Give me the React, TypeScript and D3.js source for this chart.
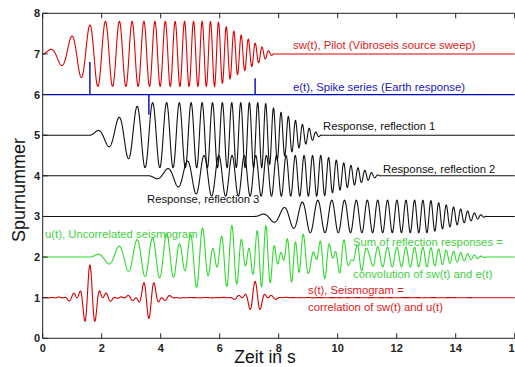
import React, { useMemo } from "react";
import * as d3 from "d3";

// ---- data ----
const xTicks = [0, 2, 4, 6, 8, 10, 12, 14, 16];
const yTicks = [0, 1, 2, 3, 4, 5, 6, 7, 8];
// linear sweep: start frequency (Hz), sweep rate (Hz/s)
const sweepFreq = [1.05, 0.45];
// taper knots (s): start, end of start-taper, start of end-taper, end of sweep
const sweepTaper = [0, 1.8, 5.9, 7.85];
const sweepDisplayAmp = 0.8;
// earth response (spike series)
const spikeTimes = [1.6, 3.6, 7.2];
const spikeAmps = [0.8, -0.5, 0.4];
// trace baselines
const sweepBase = 7;
const spikeBase = 6;
const responseBases = [5, 4, 3];
const sumBase = 2;
const corrBase = 1;
const sumGain = 0.6;

const labelTexts = [
  "sw(t), Pilot (Vibroseis source sweep)",
  "e(t), Spike series (Earth response)",
  "Response, reflection 1",
  "Response, reflection 2",
  "Response, reflection 3",
  "u(t), Uncorrelated seismogram",
  "Sum of reflection responses =",
  "convolution of sw(t) and e(t)",
  "s(t), Seismogram =",
  "correlation of sw(t) and u(t)",
];

const W = 515;
const H = 367;
const DT = 0.005;

function sweep(t: number): number {
  const [t0, t1, t2, t3] = sweepTaper;
  if (t <= t0 || t >= t3) return 0;
  let env = 1;
  if (t < t1) env = (t - t0) / (t1 - t0);
  else if (t > t2) env = (t3 - t) / (t3 - t2);
  const [f0, k] = sweepFreq;
  return env * Math.sin(2 * Math.PI * (f0 * t + 0.5 * k * t * t));
}

export default function App() {
  const x = d3.scaleLinear().domain([0, 16]).range([42.7, 514.7]);
  const y = d3.scaleLinear().domain([0, 8]).range([338.3, 13.3]);

  const data = useMemo(() => {
    const n = Math.round(16 / DT);
    const ts = d3.range(n + 1).map((i) => i * DT);
    // autocorrelation of sweep
    const ns = Math.round(sweepTaper[3] / DT);
    const s = d3.range(ns + 1).map((i) => sweep(i * DT));
    const R: number[] = new Array(ns + 1).fill(0);
    for (let lag = 0; lag <= ns; lag++) {
      let acc = 0;
      for (let i = 0; i + lag <= ns; i++) acc += s[i] * s[i + lag];
      R[lag] = acc;
    }
    const r0 = R[0];
    const Rn = (tau: number) => {
      const l = Math.abs(Math.round(tau / DT));
      return l > ns ? 0 : R[l] / r0;
    };
    const sw = ts.map((t) => [t, sweepBase + sweepDisplayAmp * sweep(t)]);
    const resp = spikeTimes.map((tau, k) =>
      ts.map((t) => [t, responseBases[k] + spikeAmps[k] * sweep(t - tau)])
    );
    const sum = ts.map((t) => [
      t,
      sumBase +
        sumGain *
          spikeTimes.reduce((a, tau, k) => a + spikeAmps[k] * sweep(t - tau), 0),
    ]);
    const corr = ts.map((t) => [
      t,
      corrBase + spikeTimes.reduce((a, tau, k) => a + spikeAmps[k] * Rn(t - tau), 0),
    ]);
    return { sw, resp, sum, corr };
  }, []);

  const line = d3
    .line<number[]>()
    .x((d) => x(d[0]))
    .y((d) => y(d[1]));

  const lw = 1.1;
  const font = "Arial, 'Liberation Sans', Helvetica, sans-serif";

  return (
    <svg
      width={W}
      height={H}
      style={{ position: "absolute", left: 0, top: 0, background: "#fff" }}
      fontFamily={font}
    >
      {/* traces */}
      {data.resp.map((r, k) => (
        <path key={k} d={line(r) || ""} fill="none" stroke="#111" strokeWidth={lw} />
      ))}
      <path d={line(data.sw) || ""} fill="none" stroke="#e00000" strokeWidth={lw} />
      <line x1={x(0)} x2={x(16)} y1={y(spikeBase)} y2={y(spikeBase)} stroke="#0000bb" strokeWidth={1.2} />
      {spikeTimes.map((t, k) => (
        <line
          key={k}
          x1={x(t)}
          x2={x(t)}
          y1={y(spikeBase)}
          y2={y(spikeBase + spikeAmps[k])}
          stroke="#0000bb"
          strokeWidth={1.4}
        />
      ))}
      <path d={line(data.sum) || ""} fill="none" stroke="#2edc2e" strokeWidth={lw} />
      <path d={line(data.corr) || ""} fill="none" stroke="#d40000" strokeWidth={lw} />

      {/* annotations */}
      <g fontSize={11.3}>
        <text x={293} y={49} fill="#e02020">{labelTexts[0]}</text>
        <text x={293} y={91} fill="#2020c0">{labelTexts[1]}</text>
        <text x={323} y={130} fill="#111">{labelTexts[2]}</text>
        <text x={383} y={173} fill="#111">{labelTexts[3]}</text>
        <text x={147} y={203} fill="#111">{labelTexts[4]}</text>
        <text x={45} y={238} fill="#3fd03f">{labelTexts[5]}</text>
        <text x={353} y={246} fill="#3fd03f">{labelTexts[6]}</text>
        <text x={353} y={278} fill="#3fd03f">{labelTexts[7]}</text>
        <text x={308} y={294} fill="#e02020">{labelTexts[8]}</text>
        <text x={308} y={311} fill="#e02020">{labelTexts[9]}</text>
      </g>

      {/* axes */}
      <g stroke="#222" strokeWidth={1} fill="none">
        <line x1={x(0)} x2={x(16)} y1={y(0)} y2={y(0)} />
        <line x1={x(0)} x2={x(16)} y1={y(8)} y2={y(8)} />
        <line x1={x(0)} x2={x(0)} y1={y(0)} y2={y(8)} />
        {xTicks.map((t) => (
          <g key={t}>
            <line x1={x(t)} x2={x(t)} y1={y(0)} y2={y(0) - 5} />
            <line x1={x(t)} x2={x(t)} y1={y(8)} y2={y(8) + 5} />
          </g>
        ))}
        {yTicks.map((t) => (
          <line key={t} x1={x(0)} x2={x(0) + 5} y1={y(t)} y2={y(t)} />
        ))}
      </g>
      <g fontSize={11} fontWeight="bold" fill="#222">
        {xTicks.map((t) => (
          <text key={t} x={x(t)} y={352} textAnchor="middle">{t}</text>
        ))}
        {yTicks.map((t) => (
          <text key={t} x={40} y={y(t) + 4} textAnchor="end">{t}</text>
        ))}
      </g>
      <text x={265} y={363} fontSize={17.5} textAnchor="middle" fill="#111">Zeit in s</text>
      <text
        transform={`translate(25,190) rotate(-90)`}
        fontSize={18}
        textAnchor="middle"
        fill="#111"
      >
        Spurnummer
      </text>
    </svg>
  );
}
